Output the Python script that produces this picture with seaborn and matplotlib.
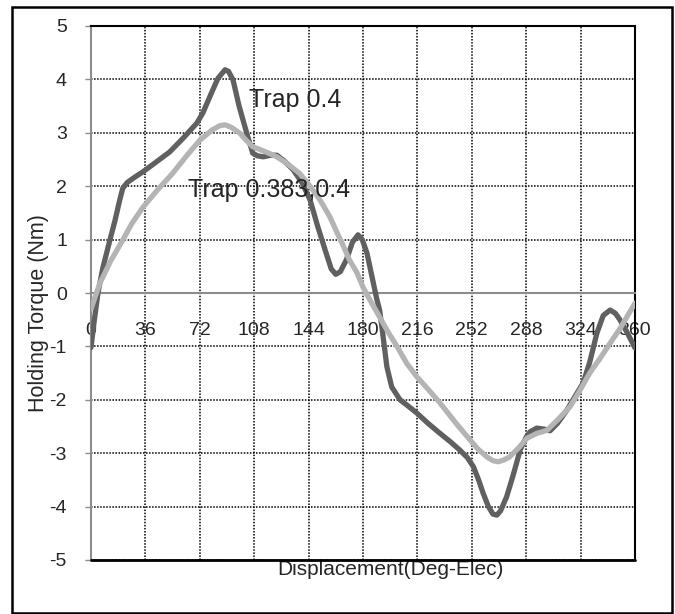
import pandas as pd
import matplotlib
matplotlib.use("Agg")
import matplotlib.pyplot as plt
from matplotlib.patches import Rectangle
import seaborn as sns

# Trap 0.4 (dark curve)
x_trap04 = [0, 2, 4.6, 8, 12.6, 16, 19, 21, 24, 29, 34.4, 43, 52, 61, 70, 74, 79, 84,
            88.7, 91, 94, 98, 103, 107, 110, 114, 119, 123, 128, 134, 140, 145, 150,
            155, 159, 162, 165, 169, 173, 176.7, 179.5, 182.6, 186, 189, 191, 193,
            195.8, 199, 204.5, 210, 215.7, 223, 231, 238, 244, 249, 253, 256.5,
            259.5, 263, 266, 268.6, 271, 275, 279.5, 284, 288, 290.5, 295, 300,
            303.8, 309, 315, 320, 325.6, 330, 334.8, 339, 343.5, 347, 350, 355, 360]
y_trap04 = [-1.02, -0.55, 0.0, 0.49, 1.0, 1.37, 1.74, 1.96, 2.07, 2.17, 2.27, 2.45, 2.64,
            2.9, 3.18, 3.37, 3.7, 4.02, 4.18, 4.15, 3.99, 3.5, 3.0, 2.62, 2.57, 2.55,
            2.58, 2.58, 2.47, 2.30, 2.05, 1.74, 1.25, 0.8, 0.45, 0.35, 0.4, 0.62, 0.95,
            1.09, 1.0, 0.75, 0.3, -0.1, -0.32, -0.75, -1.38, -1.76, -2.0, -2.12, -2.25,
            -2.44, -2.63, -2.79, -2.94, -3.08, -3.25, -3.5, -3.75, -4.0, -4.14, -4.16,
            -4.08, -3.82, -3.4, -2.94, -2.7, -2.6, -2.53, -2.55, -2.58, -2.43, -2.19,
            -1.95, -1.69, -1.3, -0.75, -0.42, -0.32, -0.38, -0.5, -0.75, -1.03]

# Trap 0.383,0.4 (light curve)
x_trap0383 = [0, 3, 6, 13, 21, 27, 34.5, 44, 54, 63, 72, 80, 85, 88.7, 93, 98.6, 103,
              107, 115, 123, 130, 138, 145, 151.6, 158, 163, 167, 171, 176, 180, 184,
              191, 197, 202.5, 209, 215.7, 223, 231, 241, 250.8, 256, 262, 266, 269.4,
              273, 277, 283, 288.5, 295, 301.8, 309, 317, 323, 330, 337, 343.5, 350,
              355, 360]
y_trap0383 = [-0.3, -0.05, 0.19, 0.6, 0.99, 1.3, 1.61, 1.93, 2.24, 2.56, 2.86, 3.05,
              3.13, 3.15, 3.1, 2.99, 2.85, 2.74, 2.65, 2.55, 2.42, 2.24, 2.0, 1.74,
              1.43, 1.12, 0.88, 0.62, 0.38, 0.11, -0.1, -0.45, -0.75, -1.0, -1.32,
              -1.57, -1.8, -2.06, -2.42, -2.75, -2.92, -3.07, -3.14, -3.16, -3.13,
              -3.07, -2.9, -2.72, -2.63, -2.57, -2.37, -2.13, -1.85, -1.5, -1.22,
              -0.94, -0.67, -0.43, -0.19]

x_ticks = list(range(0, 361, 36))
y_ticks = list(range(-5, 6))

df = pd.concat([
    pd.DataFrame({'Displacement': x_trap04, 'Torque': y_trap04, 'Series': 'Trap 0.4'}),
    pd.DataFrame({'Displacement': x_trap0383, 'Torque': y_trap0383, 'Series': 'Trap 0.383,0.4'}),
])

sns.set_style("white")
plt.rcParams['font.family'] = ['Liberation Sans', 'DejaVu Sans']
plt.rcParams['axes.unicode_minus'] = False

fig = plt.figure(figsize=(6.75, 6.14), dpi=100, facecolor='white')
ax = fig.add_axes([91 / 675, 1 - 560 / 614, 544 / 675, 534 / 614])

sns.lineplot(data=df, x='Displacement', y='Torque', hue='Series', estimator=None,
             sort=False, palette={'Trap 0.4': '#606060', 'Trap 0.383,0.4': '#b4b4b4'},
             linewidth=3.8, legend=False, ax=ax, zorder=3)
for line in ax.get_lines():
    line.set_solid_joinstyle('round')
    line.set_solid_capstyle('round')

ax.set_xlim(0, 360)
ax.set_ylim(-5, 5)
ax.set_xticks(x_ticks)
ax.set_yticks(y_ticks)
ax.grid(True, color='black', linestyle=(0, (1, 1)), linewidth=1.1, zorder=1)
ax.set_axisbelow(True)

for s in ['top', 'right']:
    ax.spines[s].set_color('black')
    ax.spines[s].set_linewidth(1.5)
ax.spines['left'].set_color('#8c8c8c')
ax.spines['left'].set_linewidth(1.5)
ax.spines['bottom'].set_position(('data', 0))
ax.spines['bottom'].set_color('#8c8c8c')
ax.spines['bottom'].set_linewidth(1.5)
ax.axhline(-5, color='black', linewidth=2, clip_on=False, zorder=4)

ax.tick_params(axis='y', which='major', left=True, length=4.3, width=1,
               color='#8c8c8c', pad=13, labelsize=14)
ax.tick_params(axis='x', which='major', bottom=False, length=0, pad=21,
               labelsize=14)

ax.set_xlabel('Displacement(Deg-Elec)', fontsize=15)
ax.xaxis.set_label_coords(0.5496, -0.0187)
ax.xaxis.label.set_verticalalignment('center')
ax.set_ylabel('Holding Torque (Nm)', fontsize=15.5)
ax.yaxis.set_label_coords(-0.0974, 0.4625)
ax.yaxis.label.set_verticalalignment('center')

ax.text(104.5, 3.49, 'Trap 0.4', fontsize=18, ha='left', va='baseline', zorder=5)
ax.text(64.0, 1.80, 'Trap 0.383,0.4', fontsize=18, ha='left', va='baseline', zorder=5)

fig.patches.append(Rectangle((12 / 675, 1 / 614), 660 / 675, 606 / 614,
                             transform=fig.transFigure, fill=False,
                             edgecolor='black', linewidth=1.8))

plt.savefig("out.png", dpi=100, facecolor='white')
